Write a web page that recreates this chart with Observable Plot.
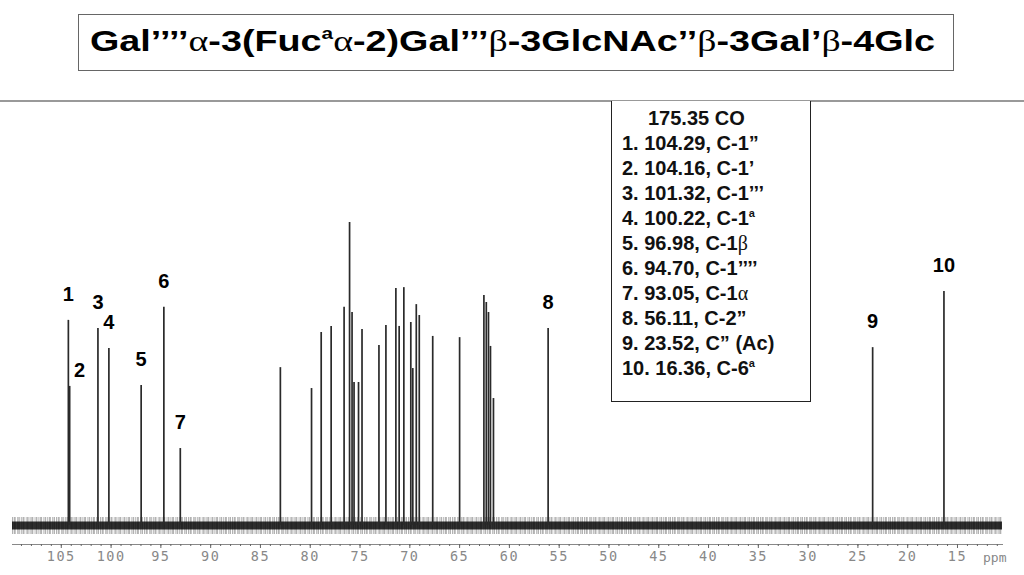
<!DOCTYPE html>
<html>
<head>
<meta charset="utf-8">
<script src="https://cdn.jsdelivr.net/npm/d3@7"></script>
<script src="https://cdn.jsdelivr.net/npm/@observablehq/plot@0.6"></script>
<style>
  html, body { margin: 0; padding: 0; background: #fff; }
  #page { position: relative; width: 1024px; height: 575px; overflow: hidden; font-family: "Liberation Sans", Arial, sans-serif; }
  #titlebox { position: absolute; left: 78px; top: 14px; width: 876px; height: 57px; border: 1px solid #666; box-sizing: border-box; }
  #title { position: absolute; left: 11px; top: 9px; font-size: 30px; font-weight: bold; white-space: nowrap; transform-origin: 0 0; color: #000; }
  .gr { font-family: "Liberation Serif", "Times New Roman", serif; font-weight: normal; }
  .sup { font-size: 0.55em; position: relative; top: -0.75em; vertical-align: baseline; line-height: 0; }
  #rule { position: absolute; left: 0; top: 100px; width: 1024px; height: 2px; background: #999; }
  #chart { position: absolute; left: 0; top: 102px; }
  #chart g[aria-label="x-axis tick label"] text { letter-spacing: 1.5px; }
  #legend { position: absolute; left: 611px; top: 101px; width: 200px; height: 301px; border: 1px solid #222; border-top: none; box-sizing: border-box; background: #fff; font-weight: bold; font-size: 20px; color: #111; padding-top: 5px; }
  #legend div { height: 25px; line-height: 25px; padding-left: 10px; white-space: nowrap; overflow: visible; }
  #legend div.head { padding-left: 36px; }
</style>
</head>
<body>
<div id="page">
  <div id="titlebox"><div id="title"></div></div>
  <div id="rule"></div>
  <div id="chart"></div>
  <div id="legend"></div>
</div>
<script>
// ---- data ----
// labelled peaks: number, chemical shift (ppm), relative intensity (tallest peak = 100)
const labelNumbers = [1, 2, 3, 4, 5, 6, 7, 8, 9, 10];
const labelShifts  = [104.29, 104.16, 101.32, 100.22, 96.98, 94.70, 93.05, 56.11, 23.52, 16.36];
const labelHeights = [67.7, 45.9, 65.0, 58.4, 46.2, 72.0, 25.4, 65.0, 58.7, 77.2];

// unlabelled ring-carbon peaks (ppm) and relative intensities
const ringShifts  = [83.0, 79.87, 78.9, 77.9, 76.6, 76.05, 75.8, 75.6, 75.15, 74.8, 73.1, 72.4, 71.4, 71.07, 70.6, 69.9, 69.7, 69.35, 69.05, 67.7, 65.0, 62.56, 62.32, 62.1, 61.9, 61.6];
const ringHeights = [52.1, 45.2, 63.7, 65.7, 72.0, 100, 70.3, 47.2, 47.2, 64.7, 59.4, 66.0, 78.2, 65.7, 78.5, 67.0, 51.8, 72.9, 69.3, 62.4, 62.0, 75.9, 73.6, 70.3, 59.1, 41.9];

// axis
const tickMajor = [105, 100, 95, 90, 85, 80, 75, 70, 65, 60, 55, 50, 45, 40, 35, 30, 25, 20, 15];
const tickMinor = d3.range(109, 10, -1);
const axisUnit = "ppm";

// texts
const titleHTML = 'Gal’’’’<span class="gr">α</span>-3(Fuc<span class="sup">a</span><span class="gr">α</span>-2)Gal’’’<span class="gr">β</span>-3GlcNAc’’<span class="gr">β</span>-3Gal’<span class="gr">β</span>-4Glc';
const legendHead = "175.35 CO";
const legendItems = [
  "C-1”", "C-1’", "C-1’’’", 'C-1<span class="sup">a</span>', 'C-1<span class="gr">β</span>',
  "C-1’’’’", 'C-1<span class="gr">α</span>', "C-2”", "C” (Ac)", 'C-6<span class="sup">a</span>'
];
const legendShifts = ["104.29", "104.16", "101.32", "100.22", "96.98", "94.70", "93.05", "56.11", "23.52", "16.36"];

// ---- build tables ----
const labelled = labelNumbers.map((n, i) => ({n, ppm: labelShifts[i], h: labelHeights[i]}));
const ring = ringShifts.map((p, i) => ({ppm: p, h: ringHeights[i]}));
const peaks = labelled.concat(ring);

// ---- title & legend ----
const t = document.getElementById("title");
t.innerHTML = titleHTML;
const w = t.getBoundingClientRect().width;
t.style.transform = `scaleX(${845 / w})`;

const lg = document.getElementById("legend");
lg.innerHTML = `<div class="head">${legendHead}</div>` +
  legendItems.map((c, i) => `<div>${labelNumbers[i]}. ${legendShifts[i]}, ${c}</div>`).join("");

// ---- chart ----
const xDom = [109.9, 10.48];
const chart = Plot.plot({
  width: 1024,
  height: 473,
  marginLeft: 12,
  marginRight: 22,
  marginTop: 0,
  marginBottom: 31,
  x: {domain: xDom, label: null},
  y: {domain: [0, 100], range: [423, 120], axis: null, label: null},
  style: {background: "transparent"},
  marks: [
    Plot.frame({anchor: "bottom", stroke: "#888", strokeWidth: 1}),
    // baseline noise band
    Plot.ruleY([0], {x1: xDom[0], x2: xDom[1], stroke: "#000", strokeWidth: 17, strokeOpacity: 0.3, strokeDasharray: "1,0.7,2,1.3,0.8,0.5,1.5,1"}),
    Plot.ruleY([0], {x1: xDom[0], x2: xDom[1], stroke: "#000", strokeWidth: 8, strokeOpacity: 0.8}),
    // peaks
    Plot.ruleX(peaks, {x: "ppm", y1: 0, y2: "h", stroke: "#2a2a2a", strokeWidth: 1.7}),
    // axis ticks
    Plot.axisX({ticks: tickMinor, tickSize: 2, tickFormat: () => "", stroke: "#666", label: null}),
    Plot.axisX({ticks: tickMajor, tickSize: 4, tickPadding: 3, stroke: "#666", fill: "#888",
      fontSize: 13.5, fontFamily: "DejaVu Sans Mono, monospace", tickFormat: d => String(d), label: null}),
    Plot.text([axisUnit], {frameAnchor: "bottom-right", dx: 4, dy: 13, textAnchor: "end", lineAnchor: "middle",
      fill: "#888", fontSize: 13, fontFamily: "DejaVu Sans Mono, monospace"}),
    // peak number labels
    Plot.text(labelled.filter(d => d.n !== 2), {x: "ppm", y: "h", text: d => String(d.n), dy: -26,
      fontSize: 20, fontWeight: "bold", fill: "#000", fontFamily: "Liberation Sans, Arial, sans-serif"}),
    Plot.text(labelled.filter(d => d.n === 2), {x: "ppm", y: "h", text: d => String(d.n), dy: -16, dx: 10,
      fontSize: 20, fontWeight: "bold", fill: "#000", fontFamily: "Liberation Sans, Arial, sans-serif"})
  ]
});
document.getElementById("chart").appendChild(chart);
</script>
</body>
</html>
